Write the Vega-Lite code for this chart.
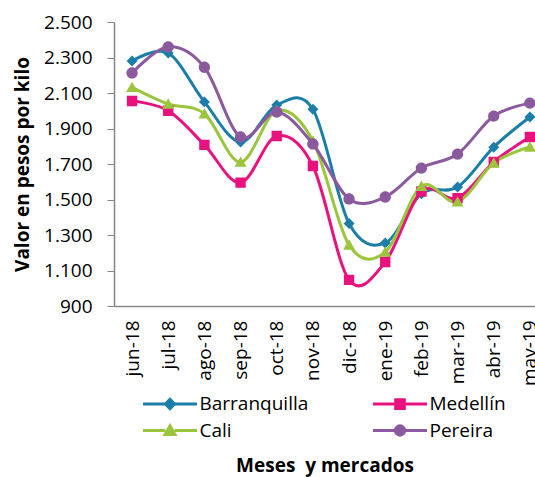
{
  "$schema": "https://vega.github.io/schema/vega-lite/v6.json",
  "autosize": "none",
  "padding": {"left": 114, "top": 22, "right": 0, "bottom": 171},
  "width": 421,
  "height": 284,
  "background": "white",
  "config": {
    "font": "Open Sans",
    "view": {"stroke": null},
    "axis": {"grid": false, "domainColor": "#868686", "tickColor": "#868686", "labelColor": "#000000", "titleColor": "#000000", "labelFont": "Open Sans", "titleFont": "Open Sans"},
    "legend": {"labelFontSize": 19, "labelFont": "Open Sans", "labelColor": "#000000"}
  },
  "data": {
    "values": [
      {"mes": "jun-18", "ciudad": "Barranquilla", "valor": 2280},
      {"mes": "jul-18", "ciudad": "Barranquilla", "valor": 2325},
      {"mes": "ago-18", "ciudad": "Barranquilla", "valor": 2050},
      {"mes": "sep-18", "ciudad": "Barranquilla", "valor": 1824},
      {"mes": "oct-18", "ciudad": "Barranquilla", "valor": 2032},
      {"mes": "nov-18", "ciudad": "Barranquilla", "valor": 2008},
      {"mes": "dic-18", "ciudad": "Barranquilla", "valor": 1365},
      {"mes": "ene-19", "ciudad": "Barranquilla", "valor": 1255},
      {"mes": "feb-19", "ciudad": "Barranquilla", "valor": 1533},
      {"mes": "mar-19", "ciudad": "Barranquilla", "valor": 1570},
      {"mes": "abr-19", "ciudad": "Barranquilla", "valor": 1795},
      {"mes": "may-19", "ciudad": "Barranquilla", "valor": 1965},
      {"mes": "jun-18", "ciudad": "Medellín", "valor": 2055},
      {"mes": "jul-18", "ciudad": "Medellín", "valor": 2000},
      {"mes": "ago-18", "ciudad": "Medellín", "valor": 1808},
      {"mes": "sep-18", "ciudad": "Medellín", "valor": 1595},
      {"mes": "oct-18", "ciudad": "Medellín", "valor": 1858},
      {"mes": "nov-18", "ciudad": "Medellín", "valor": 1689},
      {"mes": "dic-18", "ciudad": "Medellín", "valor": 1047},
      {"mes": "ene-19", "ciudad": "Medellín", "valor": 1148},
      {"mes": "feb-19", "ciudad": "Medellín", "valor": 1545},
      {"mes": "mar-19", "ciudad": "Medellín", "valor": 1508},
      {"mes": "abr-19", "ciudad": "Medellín", "valor": 1711},
      {"mes": "may-19", "ciudad": "Medellín", "valor": 1852},
      {"mes": "jun-18", "ciudad": "Cali", "valor": 2132},
      {"mes": "jul-18", "ciudad": "Cali", "valor": 2038},
      {"mes": "ago-18", "ciudad": "Cali", "valor": 1983},
      {"mes": "sep-18", "ciudad": "Cali", "valor": 1711},
      {"mes": "oct-18", "ciudad": "Cali", "valor": 2000},
      {"mes": "nov-18", "ciudad": "Cali", "valor": 1830},
      {"mes": "dic-18", "ciudad": "Cali", "valor": 1244},
      {"mes": "ene-19", "ciudad": "Cali", "valor": 1204},
      {"mes": "feb-19", "ciudad": "Cali", "valor": 1575},
      {"mes": "mar-19", "ciudad": "Cali", "valor": 1487},
      {"mes": "abr-19", "ciudad": "Cali", "valor": 1706},
      {"mes": "may-19", "ciudad": "Cali", "valor": 1796},
      {"mes": "jun-18", "ciudad": "Pereira", "valor": 2213},
      {"mes": "jul-18", "ciudad": "Pereira", "valor": 2360},
      {"mes": "ago-18", "ciudad": "Pereira", "valor": 2245},
      {"mes": "sep-18", "ciudad": "Pereira", "valor": 1852},
      {"mes": "oct-18", "ciudad": "Pereira", "valor": 1993},
      {"mes": "nov-18", "ciudad": "Pereira", "valor": 1813},
      {"mes": "dic-18", "ciudad": "Pereira", "valor": 1503},
      {"mes": "ene-19", "ciudad": "Pereira", "valor": 1514},
      {"mes": "feb-19", "ciudad": "Pereira", "valor": 1677},
      {"mes": "mar-19", "ciudad": "Pereira", "valor": 1756},
      {"mes": "abr-19", "ciudad": "Pereira", "valor": 1970},
      {"mes": "may-19", "ciudad": "Pereira", "valor": 2043}
    ]
  },
  "encoding": {
    "x": {
      "field": "mes", "type": "ordinal",
      "sort": ["jun-18","jul-18","ago-18","sep-18","oct-18","nov-18","dic-18","ene-19","feb-19","mar-19","abr-19","may-19"],
      "scale": {"type": "point", "padding": 0.32, "align": 0.78},
      "axis": {"title": "Meses\u00a0 y mercados", "titleFontSize": 19, "titleFontWeight": "bold", "titlePadding": 71, "labelAngle": -90, "labelFontSize": 19, "ticks": false, "labelPadding": 14, "domainWidth": 1.5}
    },
    "y": {
      "field": "valor", "type": "quantitative",
      "scale": {"domain": [900, 2500], "nice": false, "zero": false},
      "axis": {"title": "Valor en pesos por kilo", "titleFontSize": 19, "titleFontWeight": "bold", "titlePadding": 11, "values": [900,1100,1300,1500,1700,1900,2100,2300,2500], "labelExpr": "replace(format(datum.value, ','), ',', '.')", "labelFontSize": 19, "tickSize": 7, "labelPadding": 15, "domainWidth": 1.5}
    },
    "color": {
      "field": "ciudad", "type": "nominal",
      "scale": {"domain": ["Barranquilla","Medellín","Cali","Pereira"], "range": ["#1B7EA8","#E9117D","#9BC53D","#8B5A9E"]},
      "legend": {
        "title": null, "orient": "none", "direction": "horizontal", "legendX": 29, "legendY": 367, "columns": 2, "columnPadding": 57, "rowPadding": 1,
        "values": ["Barranquilla","Medellín","Cali","Pereira"],
        "symbolSize": 676, "symbolStrokeWidth": 3, "symbolOffset": 12.5, "labelOffset": 15, "labelLimit": 300,
        "encode": {"symbols": {"update": {"size": {"value": 676}, "fill": {"scale": "color", "field": "value"}, "stroke": {"scale": "color", "field": "value"}, "strokeWidth": {"value": 3}, "opacity": {"value": 1}}}}
      }
    },
    "shape": {
      "field": "ciudad", "type": "nominal",
      "scale": {"domain": ["Barranquilla","Medellín","Cali","Pereira"], "range": [
        "M-2.08,0H-0.35M0,-0.35L0.35,0L0,0.35L-0.35,0ZM0.35,0H2.08",
        "M-2.08,0H-0.33M-0.33,-0.33H0.33V0.33H-0.33ZM0.33,0H2.08",
        "M-2.08,0H-0.36M0,-0.36L0.38,0.3H-0.38ZM0.36,0H2.08",
        "M-2.08,0H-0.36M-0.36,0A0.36,0.36 0 1,0 0.36,0A0.36,0.36 0 1,0 -0.36,0ZM0.36,0H2.08"
      ]},
      "legend": {
        "title": null, "orient": "none", "direction": "horizontal", "legendX": 29, "legendY": 367, "columns": 2, "columnPadding": 57, "rowPadding": 1,
        "values": ["Barranquilla","Medellín","Cali","Pereira"],
        "symbolSize": 676, "symbolStrokeWidth": 3, "symbolOffset": 12.5, "labelOffset": 15, "labelLimit": 300,
        "encode": {"symbols": {"update": {"size": {"value": 676}, "fill": {"scale": "color", "field": "value"}, "stroke": {"scale": "color", "field": "value"}, "strokeWidth": {"value": 3}, "opacity": {"value": 1}}}}
      }
    }
  },
  "layer": [
    {
      "mark": {"type": "line", "interpolate": "cardinal", "strokeWidth": 3}
    },
    {
      "mark": {"type": "point", "filled": true, "opacity": 1, "size": 986, "strokeWidth": 0}
    }
  ]
}
